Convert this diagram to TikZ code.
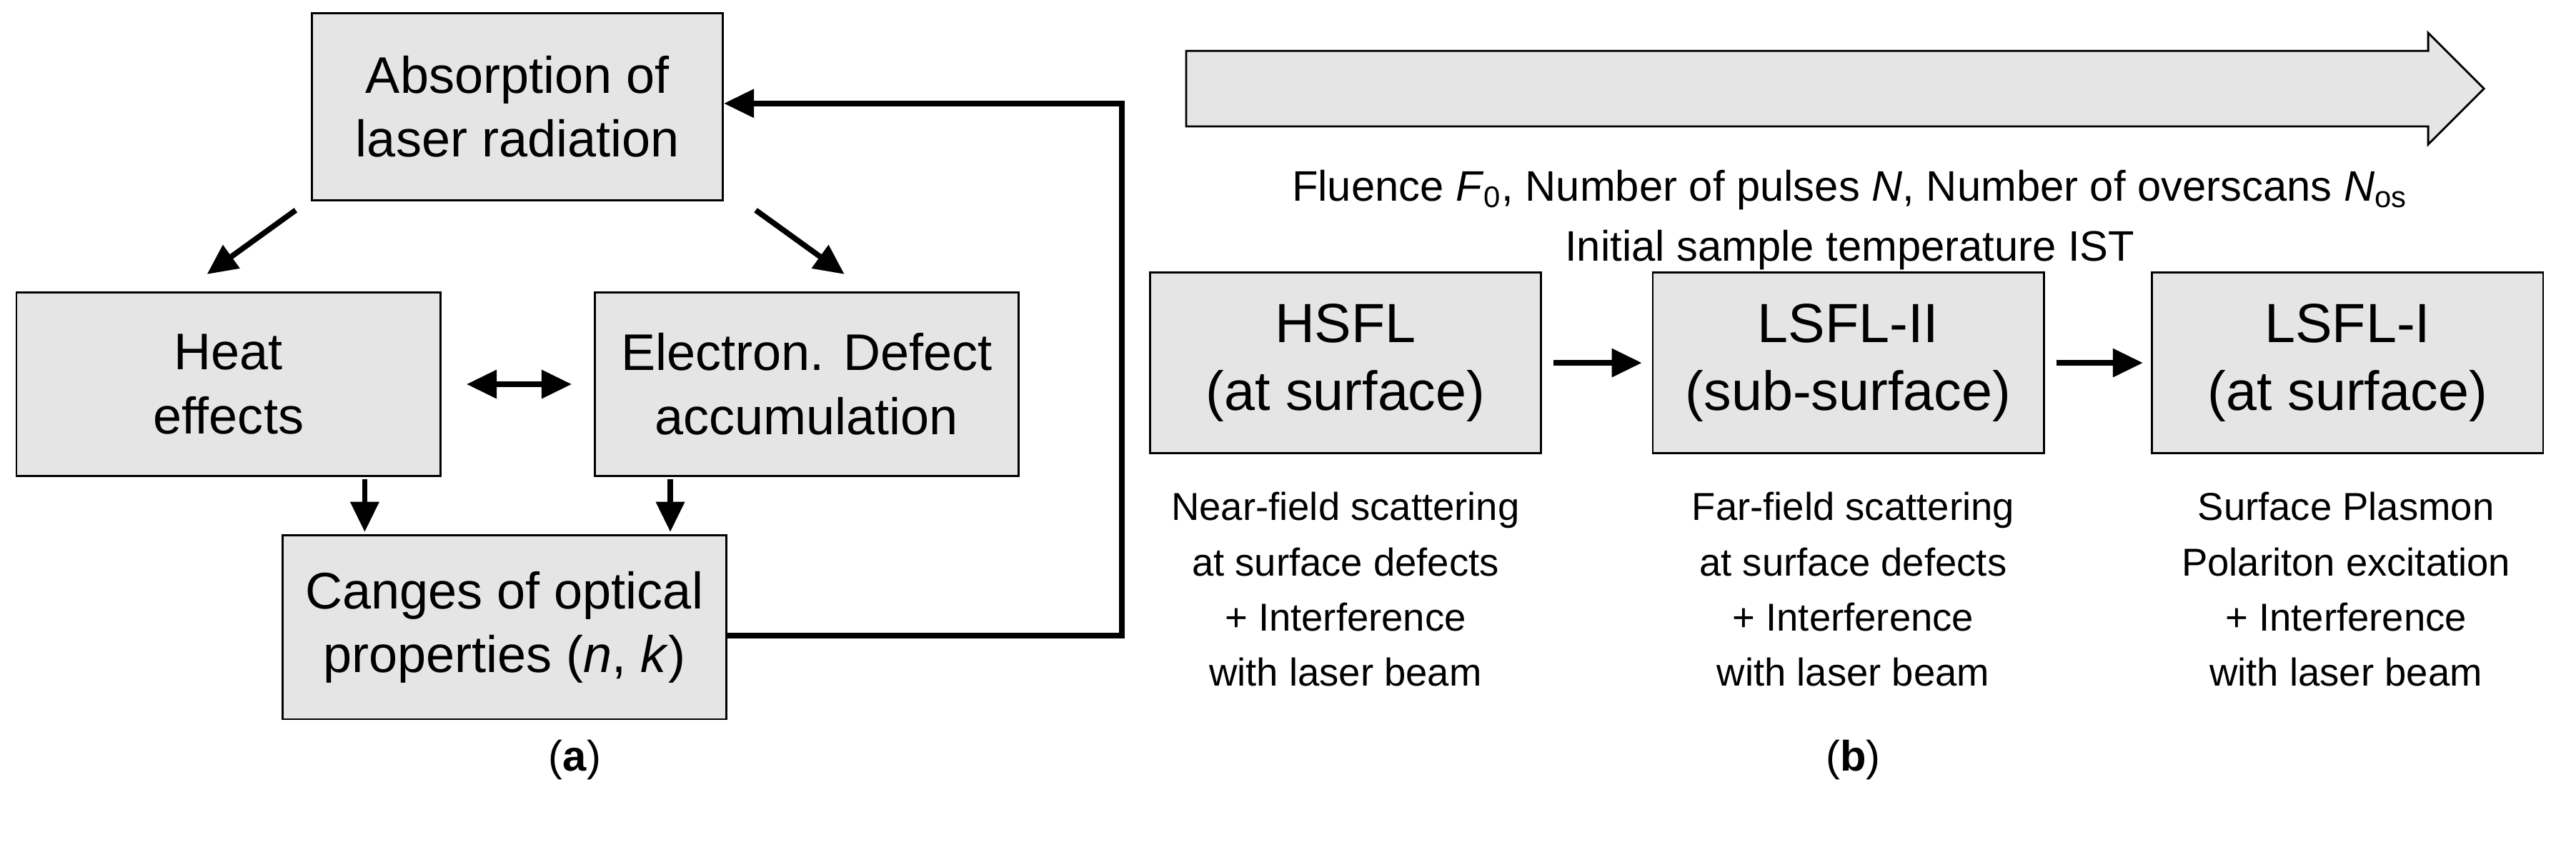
\documentclass[tikz,border=0pt]{standalone}
\usepackage{fontspec}
\setmainfont{Liberation Sans}
\usetikzlibrary{arrows.meta}
\begin{document}
\begin{tikzpicture}[x=0.02299cm,y=-0.02299cm,
 box/.style={draw,thick,fill=gray!20,inner sep=0pt,align=center,font=\fontsize{20.5}{25.5}\selectfont},
 big/.style={draw,thick,fill=gray!20,inner sep=0pt,align=center,font=\fontsize{22}{27}\selectfont},
 arr/.style={-{Triangle[length=12pt,width=11pt]},line width=2.2pt},
 txt/.style={align=center,font=\fontsize{15.5}{22}\selectfont},
 lbl/.style={font=\fontsize{17}{20}\selectfont\rmfamily}]
\useasboundingbox (0,0) rectangle (1568,518.5);
\node[box,minimum width=250*0.02299cm,minimum height=114*0.02299cm] (abs) at (315,65) {Absorption of\\laser radiation};
\node[box,minimum width=258*0.02299cm,minimum height=112*0.02299cm] (heat) at (139,234) {Heat\\effects};
\node[box,minimum width=258*0.02299cm,minimum height=112*0.02299cm] (ele) at (491,234) {Electron. Defect\\accumulation};
\node[box,minimum width=270*0.02299cm,minimum height=112*0.02299cm] (can) at (307,382) {Canges of optical\\properties (\textit{n}, \textit{k})};
\coordinate (c1) at (180,128); \coordinate (c2) at (126,167);
\coordinate (c3) at (460,128); \coordinate (c4) at (514,167);
\draw[arr] (c1) -- (c2);
\draw[arr] (c3) -- (c4);
\coordinate (d1) at (284,234); \coordinate (d2) at (348,234);
\draw[arr,{Triangle[length=12pt,width=11pt]}-{Triangle[length=12pt,width=11pt]}] (d1) -- (d2);
\coordinate (e1) at (222,292); \coordinate (e2) at (222,324);
\coordinate (f1) at (408,292); \coordinate (f2) at (408,324);
\draw[arr] (e1) -- (e2);
\draw[arr] (f1) -- (f2);
\coordinate (g1) at (683,387); \coordinate (g2) at (683,63);
\draw[arr] (can.east |- g1) -- (g1) -- (g2) -- (abs.east |- g2);
\node[lbl] (la) at (350,463) {(\textbf{a})};
\draw[thick,fill=gray!20] (722,31) -- (1478,31) -- (1478,20) -- (1512,54) -- (1478,88) -- (1478,77) -- (722,77) -- cycle;
\node[txt,font=\fontsize{17}{24}\selectfont] (ft) at (1126,134) {Fluence \textit{F}\textsubscript{0}, Number of pulses \textit{N}, Number of overscans \textit{N}\textsubscript{os}\\Initial sample temperature IST};
\node[big,minimum width=238*0.02299cm,minimum height=110*0.02299cm] (h) at (819,221) {HSFL\\(at surface)};
\node[big,minimum width=238*0.02299cm,minimum height=110*0.02299cm] (l2) at (1125,221) {LSFL-II\\(sub-surface)};
\node[big,minimum width=238*0.02299cm,minimum height=110*0.02299cm] (l1) at (1429,221) {LSFL-I\\(at surface)};
\draw[arr] ([xshift=7*0.02299cm]h.east) -- ([xshift=-6*0.02299cm]l2.west);
\draw[arr] ([xshift=7*0.02299cm]l2.east) -- ([xshift=-5*0.02299cm]l1.west);
\node[txt] (t1) at (819,359) {Near-field scattering\\at surface defects\\+ Interference\\with laser beam};
\node[txt] (t2) at (1128,359) {Far-field scattering\\at surface defects\\+ Interference\\with laser beam};
\node[txt] (t3) at (1428,359) {Surface Plasmon\\Polariton excitation\\+ Interference\\with laser beam};
\node[lbl] (lb) at (1128,463) {(\textbf{b})};
\end{tikzpicture}
\end{document}
